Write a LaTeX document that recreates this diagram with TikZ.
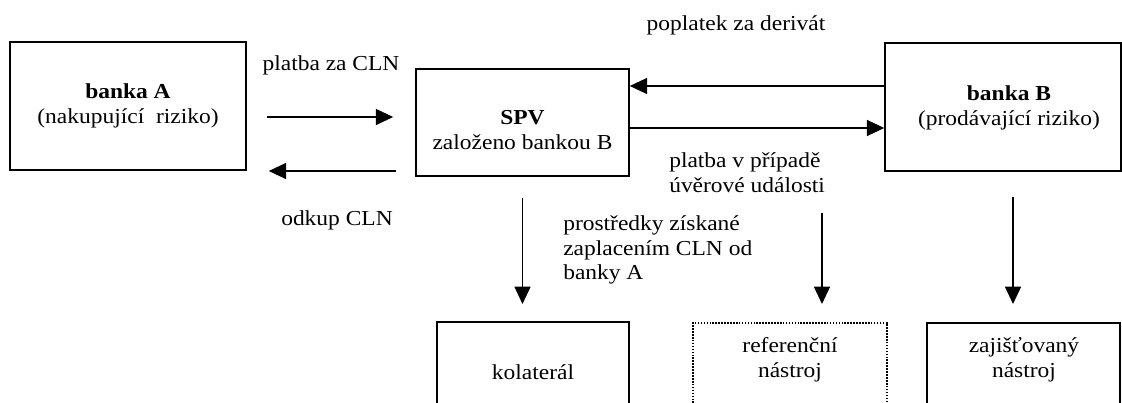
\documentclass[tikz,border=0pt]{standalone}
\usepackage{fontspec}
\setmainfont{Liberation Serif}[FakeStretch=1.1]
\usetikzlibrary{arrows.meta}

\begin{document}
\begin{tikzpicture}[x=0.75pt,y=0.75pt,yscale=-1,xscale=1,
  every node/.style={font=\fontsize{16}{18.5}\selectfont, inner sep=0.75pt},
  box/.style={draw, line width=1.2pt, inner sep=0pt, align=center},
  arr/.style={line width=1.2pt, -{Triangle[length=13pt,width=12pt]}}]
\useasboundingbox (0,0) rectangle (1122,403);
\clip (0,0) rectangle (1122,403);

%Shape: Rectangle
\node[box, minimum width=177pt, minimum height=96pt] (bankaA) at (128,106) {\textbf{banka A}\\(nakupující\ \ riziko)};
%Shape: Rectangle
\node[box, minimum width=159.75pt, minimum height=80.25pt] (spv) at (522.5,122.5) {};
%Shape: Rectangle
\node[box, minimum width=177pt, minimum height=96pt] (bankaB) at (1003,107) {};
%Shape: Rectangle
\node[box, anchor=north, minimum width=144pt, minimum height=90pt] (kolateral) at (533,321) {};
%Shape: Rectangle
\node[box, densely dotted, anchor=north, minimum width=145.5pt, minimum height=90pt] (referencni) at (790,322) {};
%Shape: Rectangle
\node[box, anchor=north, minimum width=144.75pt, minimum height=90pt] (zajistovany) at (1023.5,322) {};

%Straight Lines
\coordinate (platbaCLN) at (267,117);
\draw[arr, shorten >=16.5pt] (platbaCLN) -- (platbaCLN -| spv.west);
%Straight Lines
\coordinate (odkupCLN) at (396,171);
\draw[arr, shorten >=16.5pt] (odkupCLN) -- (odkupCLN -| bankaA.east);
%Straight Lines
\draw[arr] (bankaB.west |- 0,86) -- (spv.east |- 0,86);
%Straight Lines
\draw[arr] (spv.east |- 0,128) -- (bankaB.west |- 0,128);
%Straight Lines
\draw[arr, shorten <=15.75pt, shorten >=12.75pt] (spv.south) -- (spv.south |- kolateral.north);
%Straight Lines
\coordinate (udalost) at (822,213);
\draw[arr, shorten >=13.5pt] (udalost) -- (udalost |- referencni.north);
%Straight Lines
\coordinate (zajisteni) at (1013,197);
\draw[arr, shorten >=13.5pt] (zajisteni) -- (zajisteni |- zajistovany.north);

% Text Node
\node[align=center] (spvtext) at (522.5,130) {\textbf{SPV}\\založeno bankou B};
% Text Node
\node[align=center] (bankaBtext) at (1009,108) {\textbf{banka B}\\(prodávající riziko)};
% Text Node
\node (kolateraltext) at (533,372) {kolaterál};
% Text Node
\node[align=center] (referencnitext) at (790,360) {referenční\\nástroj};
% Text Node
\node[align=center] (zajistovanytext) at (1024,360) {zajišťovaný\\nástroj};
% Text Node
\node (platbatext) at (331,65) {platba za CLN};
% Text Node
\node (odkuptext) at (337,220) {odkup CLN};
% Text Node
\node (poplatektext) at (736,25) {poplatek za derivát};
% Text Node
\node[anchor=west, align=left] (udalosttext) at (668,173) {platba v případě\\úvěrové události};
% Text Node
\node[anchor=west, align=left] (prostredkytext) at (562,250) {prostředky získané\\zaplacením CLN od\\banky A};

\end{tikzpicture}
\end{document}
